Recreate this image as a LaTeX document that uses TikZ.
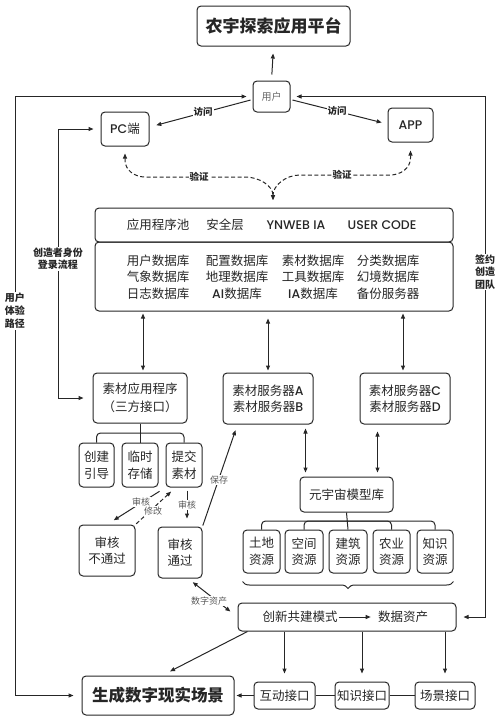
\documentclass[tikz,border=0pt]{standalone}
\usepackage{fontspec}
\setmainfont{Noto Sans CJK SC}
\newfontfamily\lat{Poppins}[UprightFont={* Medium}]
\usetikzlibrary{arrows.meta,decorations.pathreplacing}
\tikzset{
  box/.style={draw=black!85, line width=1pt, rounded corners=4pt, align=center, inner sep=0pt,
    font=\fontsize{12.5}{16.5}\selectfont, text=black!85},
  txt/.style={align=center, inner sep=0pt, font=\fontsize{12.5}{16.5}\selectfont, text=black!85},
  tip/.tip={Triangle[length=5pt,width=4pt]},
  ln/.style={line width=1pt, draw=black!85},
  arr/.style={ln, -tip},
  both/.style={ln, tip-tip},
  lab/.style={font=\fontsize{9.5}{12}\selectfont\bfseries, fill=white, inner sep=1pt, align=center, text=black!85},
  small/.style={font=\fontsize{9}{10}\selectfont, fill=white, inner sep=0.6pt, text=black!65},
}
\begin{document}
\begin{tikzpicture}[x=1pt,y=-1pt]
\useasboundingbox (0,0) rectangle (500,721);
% top
\node[box, minimum width=153pt, minimum height=40pt, font=\fontsize{17}{20}\selectfont\bfseries] (title) at (273.5,26) {农宇探索应用平台};
\node[box, minimum width=37pt, minimum height=31pt, font=\fontsize{10}{12}\selectfont, text=black!60] (user) at (271.5,96.5) {用户};
\node[box, minimum width=48pt, minimum height=34pt] (pc) at (125,129) {{\lat PC}端};
\node[box, minimum width=45pt, minimum height=34pt] (app) at (410.5,125) {\lat APP};
% pool and db
\node[box, minimum width=358pt, minimum height=34pt] (pool) at (274,225) {};
\node[txt] (p1) at (158,225) {应用程序池};
\node[txt] (p2) at (225,225) {安全层};
\node[txt] (p3) at (296,225) {\lat YNWEB IA};
\node[txt] (p4) at (382,225) {\lat USER CODE};
\node[box, minimum width=358pt, minimum height=69pt] (db) at (274,276.5) {};
\node[txt] (c1) at (158,277) {用户数据库\\气象数据库\\日志数据库};
\node[txt] (c2) at (237,277) {配置数据库\\地理数据库\\{\lat AI}数据库};
\node[txt] (c3) at (313,277) {素材数据库\\工具数据库\\{\lat IA}数据库};
\node[txt] (c4) at (388,277) {分类数据库\\幻境数据库\\备份服务器};
% middle
\node[box, minimum width=94pt, minimum height=50pt, font=\fontsize{12.5}{18}\selectfont] (sucai) at (140,398) {素材应用程序\\（三方接口）};
\node[box, minimum width=35pt, minimum height=44pt] (cj) at (96.5,465) {创建\\引导};
\node[box, minimum width=36pt, minimum height=44pt] (ls) at (140,465) {临时\\存储};
\node[box, minimum width=36pt, minimum height=44pt] (tj) at (184,465) {提交\\素材};
\node[box, minimum width=56pt, minimum height=51pt] (btg) at (107,550.5) {审核\\不通过};
\node[box, minimum width=44pt, minimum height=51pt] (tg) at (180,552.5) {审核\\通过};
\node[box, minimum width=90pt, minimum height=51pt] (srvab) at (268,398.5) {素材服务器{\lat A}\\素材服务器{\lat B}};
\node[box, minimum width=90pt, minimum height=51pt] (srvcd) at (405,398.5) {素材服务器{\lat C}\\素材服务器{\lat D}};
\node[box, minimum width=93pt, minimum height=35pt] (meta) at (346.5,494.5) {元宇宙模型库};
\node[box, minimum width=37pt, minimum height=43pt] (r1) at (261.5,551.5) {土地\\资源};
\node[box, minimum width=38pt, minimum height=43pt] (r2) at (304,551.5) {空间\\资源};
\node[box, minimum width=38pt, minimum height=43pt] (r3) at (348,551.5) {建筑\\资源};
\node[box, minimum width=37pt, minimum height=43pt] (r4) at (391.5,551.5) {农业\\资源};
\node[box, minimum width=36pt, minimum height=43pt] (r5) at (435,551.5) {知识\\资源};
% bottom
\node[box, minimum width=218pt, minimum height=28pt] (innov) at (347,617) {};
\node[txt] (i1) at (300,617) {创新共建模式};
\node[txt] (i2) at (403,617) {数据资产};
\node[box, minimum width=152pt, minimum height=39pt, font=\fontsize{16.5}{20}\selectfont\bfseries] (gen) at (158,695.5) {生成数字现实场景};
\node[box, minimum width=61pt, minimum height=27pt] (hd) at (284.5,695.5) {互动接口};
\node[box, minimum width=54pt, minimum height=27pt] (zs) at (362,695.5) {知识接口};
\node[box, minimum width=60pt, minimum height=27pt] (cs) at (445,695.5) {场景接口};

% connectors top
\draw[arr, shorten <=6pt, shorten >=7pt] (user.north) -- (title.south);
\draw[arr, shorten <=2pt, shorten >=7pt] ([yshift=-3pt]user.west) -- ([yshift=2pt]pc.east);
\draw[arr, shorten <=2pt, shorten >=6pt] ([yshift=-3pt]user.east) -- ([yshift=1pt]app.west);
\node[lab] (v1) at (203,112) {访问};
\node[lab] (v2) at (337,111) {访问};
% outer loops
\draw[both, shorten <=6pt, shorten >=8pt] (user.west) -- (15,96.5) -- (15,695.5) -- (gen.west);
\draw[both, shorten <=6pt, shorten >=7pt] (user.east) -- (485,96.5) -- (485,617) -- (innov.east);
\draw[both, shorten <=7pt, shorten >=9pt] (pc.west) -- (58,129) -- (58,398) -- (sucai.west);
\node[lab, font=\fontsize{10}{13}\selectfont\bfseries] (o1) at (15,311) {用户\\体验\\路径};
\node[lab, font=\fontsize{10}{12.5}\selectfont\bfseries] (o2) at (485,272) {签约\\创造\\团队};
\node[lab, font=\fontsize{10}{12}\selectfont\bfseries] (o3) at (58,259) {创造者身份\\登录流程};
% verify
\coordinate (vm) at (273,200);
\draw[ln, dashed, dash pattern=on 4pt off 2.5pt, tip-tip, shorten <=7pt] (pc.south) -- (125,160) to[out=-90,in=180] (145,177) -- (245,177) to[out=0,in=90] (vm);
\draw[ln, dashed, dash pattern=on 4pt off 2.5pt, tip-tip, shorten <=8pt] (app.south) -- (410.5,158) to[out=-90,in=0] (390,175) -- (300,175) to[out=180,in=90] (vm);
\node[lab] (w1) at (199,177) {验证};
\node[lab] (w2) at (342,175) {验证};
% db links
\draw[both, shorten <=2pt, shorten >=2pt] ([xshift=3pt]sucai.north) -- ([xshift=3pt]sucai.north |- db.south);
\draw[both, shorten <=2pt, shorten >=7pt] (srvab.north) -- (srvab.north |- db.south);
\draw[both, shorten <=2pt, shorten >=2pt] ([xshift=-2pt]srvcd.north) -- ([xshift=-2pt]srvcd.north |- db.south);
% trees
\draw[ln] (sucai.south) -- (ls.north);
\draw[ln, rounded corners=4pt] (cj.north) |- (140,433) -| (tj.north);
\draw[ln] (meta.south) -- (r3.north);
\draw[ln, rounded corners=4pt] (r1.north) |- (347,521) -| (r5.north);
\draw[ln, rounded corners=4pt] (r2.north) |- (347,521);
\draw[ln, rounded corners=4pt] (r4.north) |- (347,521);
% review
\draw[arr, shorten <=7pt, shorten >=8pt] (tj.south west) -- (btg.north);
\draw[ln, dashed, dash pattern=on 4pt off 2.5pt, -tip, shorten <=1pt, shorten >=6pt] (btg.north east) -- ([xshift=10pt]tj.south west);
\draw[arr, shorten <=3pt, shorten >=8pt] ([xshift=3pt]tj.south) -- ([xshift=3pt]tj.south |- tg.north);
\node[small] (s1) at (141,502) {审核};
\node[small] (s2) at (153,511) {修改};
\node[small] (s3) at (187,505) {审核};
\draw[arr, shorten <=1pt, shorten >=6pt] (tg.north east) -- ([xshift=15pt]srvab.south west);
\node[small] (s4) at (219,480) {保存};
% servers - meta
\draw[both, shorten <=4pt, shorten >=4pt] ([xshift=-8pt]srvab.south east) -- ([xshift=-8pt]srvab.south east |- meta.north);
\draw[both, shorten <=7pt, shorten >=4pt] ([xshift=18pt]srvcd.south west) -- ([xshift=18pt]srvcd.south west |- meta.north);
% brace
\draw[ln, decorate, decoration={brace, mirror, amplitude=7pt}] ([yshift=-8pt]r1.south west) -- ([yshift=-8pt]r5.south east);
% digital assets
\draw[both, shorten <=6pt, shorten >=9pt] ([xshift=8pt]tg.south) -- (innov.west);
\node[small] (s5) at (209,601) {数字资产};
% innov inner arrow
\draw[ln, -tip] (i1.east) ++(1pt,0) -- ++(32pt,0);
% innov down
\draw[arr, shorten >=8pt] (innov.south -| hd.north) -- (hd.north);
\draw[arr, shorten >=8pt] (innov.south -| zs.north) -- (zs.north);
\draw[arr, shorten >=8pt] (innov.south -| cs.north) -- (cs.north);
\draw[arr, shorten >=9pt] ([xshift=10pt]innov.south west) -- ([xshift=4pt]gen.north);
\draw[arr, shorten >=2pt] (hd.west) -- (gen.east);
\draw[ln] (hd.east) -- (zs.west);
\draw[ln] (zs.east) -- (cs.west);
\end{tikzpicture}
\end{document}
